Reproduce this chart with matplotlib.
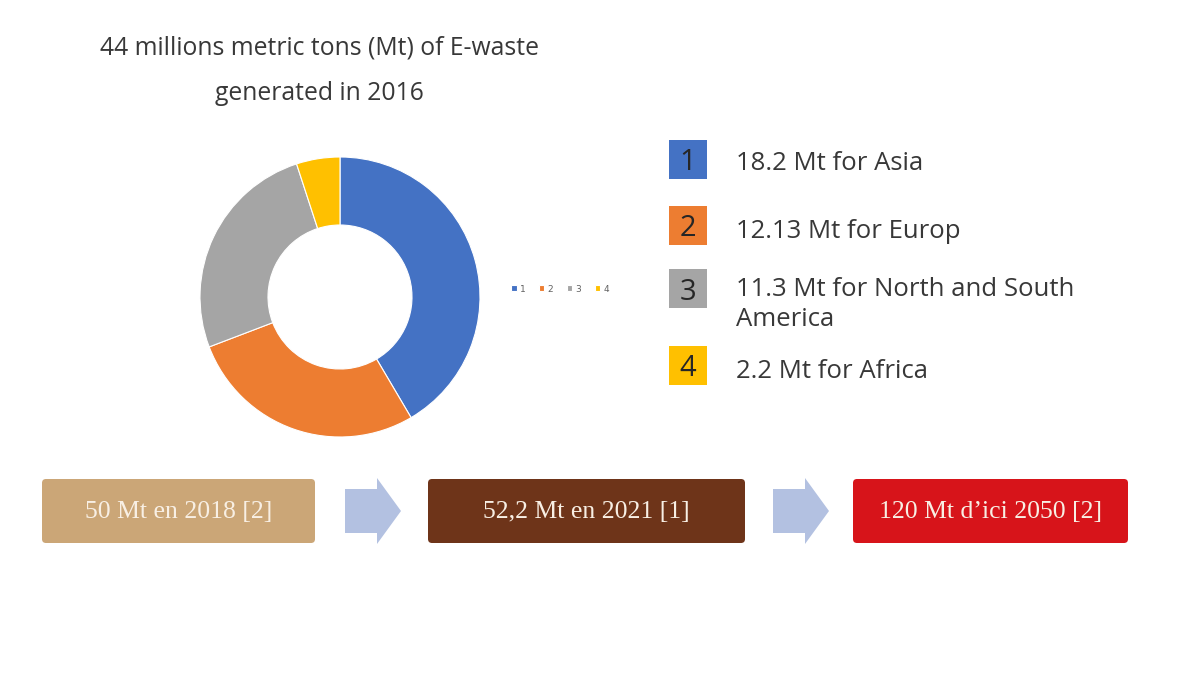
import matplotlib.pyplot as plt
from matplotlib.patches import Rectangle, FancyBboxPatch, Polygon

# donut data (Mt of e-waste, 2016)
slice_ids = ["1", "2", "3", "4"]
regions = ["Asia", "Europ", "North and South\nAmerica", "Africa"]
amounts = [18.2, 12.13, 11.3, 2.2]
slice_colors = ["#4472C4", "#ED7D31", "#A5A5A5", "#FFC000"]

# timeline boxes
timeline_labels = ["50 Mt en 2018 [2]", "52,2 Mt en 2021 [1]", "120 Mt d\u2019ici 2050 [2]"]
timeline_colors = ["#CBA677", "#6E3419", "#D7141A"]

W, H = 1200, 675
SANS = ["Open Sans", "DejaVu Sans"]
SERIF = ["Liberation Serif", "DejaVu Serif"]
TXT = "#383838"


def fx(px):
    return px / W


def fy(py):
    # pixel row from top -> figure fraction from bottom
    return 1 - py / H


fig = plt.figure(figsize=(12, 6.75), dpi=100)
fig.patch.set_facecolor("white")

# overlay axes in pixel coordinates (y down)
ax = fig.add_axes([0, 0, 1, 1])
ax.set_xlim(0, W)
ax.set_ylim(H, 0)
ax.axis("off")

# title
ax.text(319, 48, "44 millions metric tons (Mt) of E-waste", ha="center", va="center",
        fontsize=17.8, color=TXT, family=SANS)
ax.text(319, 94, "generated in 2016", ha="center", va="center",
        fontsize=17.8, color=TXT, family=SANS)

# donut
cx, cy, r_out, r_in = 340, 297, 140, 72
pax = fig.add_axes([fx(cx - r_out), fy(cy + r_out), fx(2 * r_out), 2 * r_out / H])
wedges, _ = pax.pie(amounts, colors=slice_colors, startangle=90, counterclock=False,
                    radius=1, wedgeprops=dict(width=1 - r_in / r_out, edgecolor="white",
                                              linewidth=0.8))
pax.set_xlim(-1, 1)
pax.set_ylim(-1, 1)
pax.set_aspect("equal")

leg = fig.legend(wedges, slice_ids, ncol=4, loc="center",
                 bbox_to_anchor=(fx(560), fy(289)), frameon=False, fontsize=6.5,
                 handlelength=0.6, handleheight=0.6, handletextpad=0.35, columnspacing=1.5)
for t in leg.get_texts():
    t.set_color("#606060")

# right-hand legend
box_tops = [140, 206, 269, 346]
text_rows = [163, 232, 289, 372]
for sid, reg, amt, col, top, ty in zip(slice_ids, regions, amounts, slice_colors,
                                       box_tops, text_rows):
    ax.add_patch(Rectangle((669, top), 38, 39, facecolor=col, edgecolor="none"))
    ax.text(688, top + 23, sid, ha="center", va="center", fontsize=21,
            color="#262626", family=SANS)
    lines = f"{amt} Mt for {reg}".split("\n")
    for i, line in enumerate(lines):
        ax.text(736, ty + 31 * i, line, ha="left", va="center",
                fontsize=18.5, color=TXT, family=SANS)

# timeline
box_x = [(42, 315), (428, 745), (853, 1128)]
for (x0, x1), lab, col in zip(box_x, timeline_labels, timeline_colors):
    ax.add_patch(FancyBboxPatch((x0, 479), x1 - x0, 64,
                                boxstyle="round,pad=0,rounding_size=4",
                                facecolor=col, edgecolor="none"))
    ax.text((x0 + x1) / 2, 512, lab, ha="center", va="center", fontsize=18.5,
            color="#F8EFE4", family=SERIF)

for x0 in [345, 773]:
    ax.add_patch(Polygon([(x0, 489), (x0 + 32, 489), (x0 + 32, 478), (x0 + 56, 511),
                          (x0 + 32, 544), (x0 + 32, 533), (x0, 533)],
                         closed=True, facecolor="#B3C1E1", edgecolor="none"))

fig.savefig("out.png", dpi=100, facecolor="white")
